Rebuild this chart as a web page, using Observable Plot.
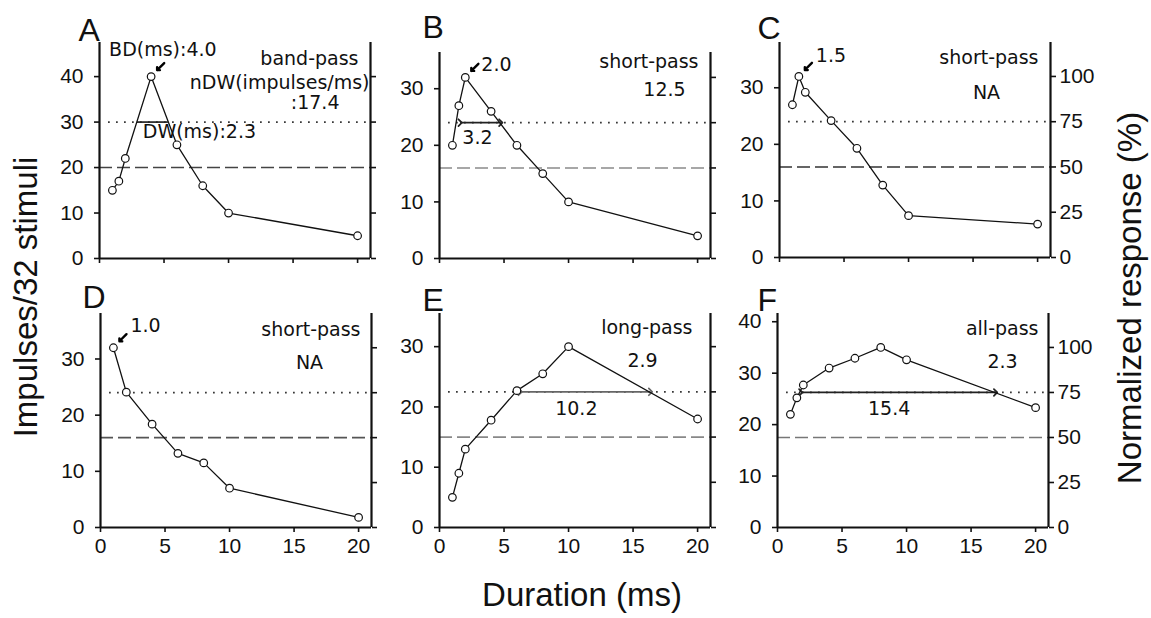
<!DOCTYPE html>
<html>
<head>
<meta charset="utf-8">
<script src="https://cdn.jsdelivr.net/npm/d3@7"></script>
<script src="https://cdn.jsdelivr.net/npm/@observablehq/plot@0.6"></script>
<style>
  body { margin: 0; background: #fff; }
  #root { position: relative; width: 1151px; height: 618px; overflow: hidden; background: #fff;
          font-family: "Liberation Sans", Arial, sans-serif; }
  .title { position: absolute; white-space: nowrap; line-height: 1; font-size: 33px; color: #111; }
  #root svg { position: absolute; }
</style>
</head>
<body>
<div id="root"></div>
<script>
// ---------------- data ----------------
const panelLetters = ["A", "B", "C", "D", "E", "F"];
const filterClass = ["band-pass", "short-pass", "short-pass", "short-pass", "long-pass", "all-pass"];

const durations = [
  [1, 1.5, 2, 4, 6, 8, 10, 20],
  [1, 1.5, 2, 4, 6, 8, 10, 20],
  [1, 1.5, 2, 4, 6, 8, 10, 20],
  [1, 2, 4, 6, 8, 10, 20],
  [1, 1.5, 2, 4, 6, 8, 10, 20],
  [1, 1.5, 2, 4, 6, 8, 10, 20]
];
const impulses = [
  [15, 17, 22, 40, 25, 16, 10, 5],
  [20, 27, 32, 26, 20, 15, 10, 4],
  [27, 32, 29.2, 24.2, 19.3, 12.8, 7.4, 5.9],
  [32, 24.1, 18.4, 13.2, 11.5, 7.0, 1.8],
  [5, 9, 13, 17.8, 22.7, 25.5, 30, 18],
  [22, 25.2, 27.7, 31, 32.9, 35, 32.6, 23.3]
];
const bdLabels = ["BD(ms):4.0", "2.0", "1.5", "1.0", null, null];
const ndwTexts = [["nDW(impulses/ms)", ":17.4"], ["12.5"], ["NA"], ["NA"], ["2.9"], ["2.3"]];
const dwLabels = ["DW(ms):2.3", "3.2", null, null, "10.2", "15.4"];
const dwSpans = [[2.9, 5.3], [1.6, 4.75], null, null, [6.25, 16.35], [1.8, 16.9]];
const leftTicks = [[0, 10, 20, 30, 40], [0, 10, 20, 30], [0, 10, 20, 30], [0, 10, 20, 30], [0, 10, 20, 30], [0, 10, 20, 30, 40]];
const xTicks = [0, 5, 10, 15, 20];
const percentTicks = [0, 25, 50, 75, 100];
const yTitle = "Impulses/32 stimuli";
const y2Title = "Normalized response (%)";
const xTitle = "Duration (ms)";

// ---------------- layout (pixels / styles) ----------------
const layout = [
  {left: 99,  top: 42,  zero: 258, yMax: 47.5, xLabels: false, pctLabels: false, dash: "#444",
   letter: [-21, -2], cls: [-12, 22], bd: [-42, -21], ndw: [[-1, 46, "end"], [-31, 66, "end"]], dw: [47, 15.5], dwArrows: false},
  {left: 439, top: 52,  zero: 258, yMax: 36.4, xLabels: false, pctLabels: false, dash: "#8a8a8a",
   letter: [-17, -15], cls: [-12, 15], bd: [16, -6], ndw: [[-46, 43, "middle"]], dw: [-3, 21], dwArrows: true},
  {left: 779, top: 42,  zero: 257, yMax: 38.0, xLabels: false, pctLabels: true, dash: "#333",
   letter: [-22, -4], cls: [-12, 21], bd: [17, -14], ndw: [[-64, 56, "middle"]], dw: [0, 0], dwArrows: false},
  {left: 100, top: 313, zero: 527, yMax: 38.1, xLabels: true, pctLabels: false, dash: "#555",
   letter: [-18, -6], cls: [-11, 22], bd: [17, -16], ndw: [[-62, 55, "middle"]], dw: [0, 0], dwArrows: false},
  {left: 439, top: 313, zero: 527, yMax: 35.5, xLabels: true, pctLabels: false, dash: "#888",
   letter: [-17, -3], cls: [-18, 20], bd: [0, 0], ndw: [[-68, 53, "middle"]], dw: [-9, 23.6], dwArrows: true},
  {left: 777, top: 313, zero: 527, yMax: 41.6, xLabels: true, pctLabels: true, dash: "#777",
   letter: [-20, -3], cls: [-10, 21], bd: [0, 0], ndw: [[-46, 54, "middle"]], dw: [-9, 23], dwArrows: true}
];
const PW = 271, mL = 62, mR = 50, mT = 40, mB = 36;
const annFont = {fontFamily: "DejaVu Sans, Verdana, sans-serif", fontSize: 19, fill: "#111"};

const root = document.getElementById("root");

panelLetters.forEach((letter, i) => {
  const L = layout[i];
  const data = durations[i].map((d, j) => ({d, v: impulses[i][j]}));
  const peak = d3.max(impulses[i]);
  const peakPt = data.find(o => o.v === peak);
  const lvl75 = peak * 0.75, lvl50 = peak * 0.5;
  const marks = [
    Plot.ruleY([lvl50], {stroke: L.dash, strokeWidth: 1.6, strokeDasharray: "13,5"}),
    Plot.ruleY([lvl75], {x1: 0.7, x2: 21, stroke: "#333", strokeWidth: 1.7, strokeDasharray: "1.7,6.3"})
  ];
  if (dwSpans[i]) {
    marks.push(Plot.link([dwSpans[i]], {
      x1: s => s[0], x2: s => s[1], y1: () => lvl75, y2: () => lvl75,
      stroke: i === 4 ? "#666" : "#222", strokeWidth: 1.7,
      markerStart: L.dwArrows ? "arrow" : "none", markerEnd: L.dwArrows ? "arrow" : "none"
    }));
  }
  marks.push(
    Plot.line(data, {x: "d", y: "v", stroke: "#111", strokeWidth: 1.3}),
    Plot.dot(data, {x: "d", y: "v", r: 3.8, fill: "white", stroke: "#111", strokeWidth: 1.2}),
    Plot.ruleX([0], {stroke: "#111", strokeWidth: 2.2}),
    Plot.ruleX([21], {stroke: "#111", strokeWidth: 2.2}),
    Plot.ruleY([0], {stroke: "#111", strokeWidth: 2.2}),
    Plot.axisY({anchor: "left", ticks: leftTicks[i], tickSize: 5, tickPadding: 11, label: null, strokeWidth: 1.6}),
    Plot.axisY({anchor: "right", ticks: percentTicks.map(p => p / 100 * peak), tickSize: 5, tickPadding: 4,
      tickFormat: L.pctLabels ? (v => String(Math.round(v / peak * 100))) : (() => ""), label: null, strokeWidth: 1.6}),
    Plot.axisX({anchor: "bottom", ticks: xTicks, tickSize: 5, tickPadding: 6,
      tickFormat: L.xLabels ? (v => String(v)) : (() => ""), label: null, strokeWidth: 1.6}),
    Plot.text([letter], {frameAnchor: "top-left", text: d => d, textAnchor: "start", lineAnchor: "bottom",
      dx: L.letter[0], dy: L.letter[1], fontSize: 32, fontFamily: "Liberation Sans, Arial, sans-serif", fill: "#111"}),
    Plot.text([filterClass[i]], {frameAnchor: "top-right", text: d => d, textAnchor: "end", lineAnchor: "bottom",
      dx: L.cls[0], dy: L.cls[1], ...annFont})
  );
  ndwTexts[i].forEach((t, k) => {
    const o = L.ndw[k];
    marks.push(Plot.text([t], {frameAnchor: "top-right", text: d => d, textAnchor: o[2], lineAnchor: "bottom",
      dx: o[0], dy: o[1], ...annFont}));
  });
  if (bdLabels[i]) {
    marks.push(
      Plot.vector([peakPt], {x: "d", y: "v", length: 10, rotate: 225, anchor: "end", dx: 6, dy: -6.5,
        stroke: "#000", strokeWidth: 2.4}),
      Plot.text([peakPt], {x: "d", y: "v", text: () => bdLabels[i], textAnchor: "start", lineAnchor: "bottom",
        dx: L.bd[0], dy: L.bd[1], ...annFont})
    );
  }
  if (dwLabels[i]) {
    marks.push(Plot.text([dwSpans[i]], {x: s => (s[0] + s[1]) / 2, y: () => lvl75, text: () => dwLabels[i],
      textAnchor: "middle", lineAnchor: "bottom", dx: L.dw[0], dy: L.dw[1], ...annFont}));
  }
  const svg = Plot.plot({
    width: mL + PW + mR,
    height: mT + (L.zero - L.top) + mB,
    marginLeft: mL, marginRight: mR, marginTop: mT, marginBottom: mB,
    x: {domain: [0, 21]},
    y: {domain: [0, L.yMax]},
    style: {fontFamily: "Liberation Sans, Arial, sans-serif", fontSize: "21px", background: "none",
            color: "#111", overflow: "visible"},
    marks
  });
  svg.style.position = "absolute";
  svg.style.left = (L.left - mL) + "px";
  svg.style.top = (L.top - mT) + "px";
  svg.style.maxWidth = "none";
  root.appendChild(svg);
});

function addTitle(text, cx, cy, rot) {
  const el = document.createElement("div");
  el.className = "title";
  el.textContent = text;
  el.style.left = cx + "px";
  el.style.top = cy + "px";
  el.style.transform = "translate(-50%,-50%)" + (rot ? ` rotate(${rot}deg)` : "");
  root.appendChild(el);
}
addTitle(yTitle, 25, 297, -90);
addTitle(y2Title, 1129, 298, -90);
addTitle(xTitle, 582, 594, 0);
</script>
</body>
</html>
